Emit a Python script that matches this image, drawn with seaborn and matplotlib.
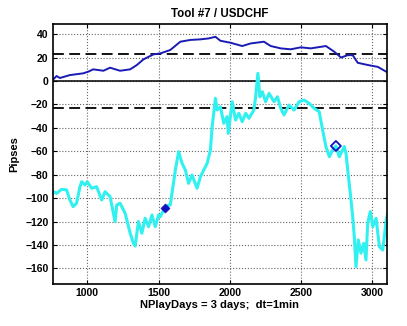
import numpy as np
import pandas as pd
import matplotlib
matplotlib.use('Agg')
import matplotlib.pyplot as plt
import seaborn as sns

# 데이터
tool_x = [762, 785, 808, 878, 972, 1007, 1042, 1113, 1160, 1230, 1301, 1348, 1394,
          1465, 1512, 1582, 1653, 1723, 1794, 1852, 1899, 1934, 2005, 2087, 2146,
          2239, 2287, 2357, 2427, 2498, 2568, 2615, 2674, 2733, 2780, 2827, 2862,
          2897, 2968, 3038, 3097]
tool_y = [1.4, 4.2, 2.5, 5, 6.5, 7.9, 9.9, 8.7, 11.3, 8.7, 9.9, 13.6, 18.4,
          22.7, 23.5, 26.4, 33.5, 35, 35.5, 36.3, 37.7, 34.3, 32.6, 29.8, 32,
          33.5, 29.8, 27.8, 27, 28.7, 27.8, 28.7, 29.8, 24.9, 20, 22, 22,
          15.5, 13.6, 12, 7.9]

pnl_x = [762, 785, 820, 855, 878, 901, 925, 949, 961, 984, 1000, 1031, 1066, 1101,
         1125, 1160, 1195, 1207, 1230, 1266, 1301, 1324, 1336, 1359, 1383, 1406,
         1430, 1454, 1477, 1500, 1512, 1542, 1570, 1582, 1601, 1618, 1641, 1665,
         1688, 1711, 1735, 1770, 1794, 1817, 1841, 1864, 1876, 1899, 1911, 1934,
         1958, 1981, 1989, 2017, 2040, 2063, 2087, 2111, 2134, 2169, 2181, 2197,
         2211, 2228, 2251, 2275, 2310, 2334, 2357, 2380, 2415, 2451, 2486, 2521,
         2556, 2592, 2627, 2651, 2674, 2698, 2721, 2744, 2768, 2803, 2815, 2827,
         2850, 2862, 2873, 2885, 2901, 2920, 2939, 2955, 2967, 2985, 3003, 3026,
         3049, 3073, 3097, 3108]
pnl_y = [-94.5, -96, -92.5, -93, -101.6, -107.3, -104.4, -90.3, -86, -88.8, -86,
         -91.6, -90.3, -101.6, -94.5, -98.8, -120, -105.9, -104.4, -113, -130,
         -138.6, -140.9, -120, -130, -117.2, -124.4, -114.4, -124.4, -114.4, -115.9,
         -108.7, -105.9, -106, -90.3, -76, -60.4, -70.3, -76, -87.4, -80.3, -91.6,
         -81.7, -76, -70.3, -59, -39, -14.8, -24.8, -22, -36.2, -30.5, -44.7, -17.7,
         -33.4, -27.6, -34.8, -27.6, -31.9, -24.8, -13.5, 6.5, -13.5, -9.2, -17.7,
         -10.6, -17.7, -13.5, -23.4, -29, -20.6, -24.8, -17.7, -16.3, -19.1, -23.4,
         -26.3, -41.9, -56, -64.7, -59, -55.5, -64.7, -56, -61.8, -76, -101.6,
         -115.9, -133, -158.5, -135.7, -147, -138.6, -152.8, -121.5, -111.6, -124.4,
         -117.2, -141.5, -144.3, -118.7, -113]

entry_x, entry_y = [1542], [-108.7]
exit_x, exit_y = [2744], [-55.5]
level = 23

sns.set_style('ticks')
plt.rcParams['font.family'] = ['Liberation Sans', 'DejaVu Sans']
plt.rcParams['font.weight'] = 'bold'
for k in ['text.color', 'axes.labelcolor', 'xtick.color', 'ytick.color', 'axes.edgecolor']:
    plt.rcParams[k] = 'black'

fig = plt.figure(figsize=(4.07, 3.26), dpi=100)
ax = fig.add_axes([0.131, 0.130, 0.819, 0.796])

sns.lineplot(x=tool_x, y=tool_y, ax=ax, color='#1a1ab4', lw=1.4)
sns.lineplot(x=pnl_x, y=pnl_y, ax=ax, color='#30f0f0', lw=2.2)

ax.axhline(0, color='black', lw=1.1, zorder=1)
ax.axhline(level, color='black', lw=1.3, ls=(0, (6, 3)), zorder=1)
ax.axhline(-level, color='black', lw=1.3, ls=(0, (6, 3)), zorder=1)

sns.scatterplot(x=entry_x, y=entry_y, ax=ax, marker='D', s=22, color='#1010c0',
                edgecolor='#1010c0', zorder=5)
sns.scatterplot(x=exit_x, y=exit_y, ax=ax, marker='D', s=26, facecolor='none',
                edgecolor='#1010c0', linewidth=1.3, zorder=5)

ax.set_xlim(762, 3100)
ax.set_ylim(-173, 48.5)
ax.set_xticks([1000, 1500, 2000, 2500, 3000])
ax.set_yticks(np.arange(-160, 41, 20))
ax.grid(True, ls=':', color='#666666', lw=0.8)
ax.tick_params(direction='in', top=True, right=True, labelsize=7.5, length=3)
for s in ax.spines.values():
    s.set_linewidth(1.2)

ax.set_title('Tool #7 / USDCHF', fontsize=8.3, fontweight='bold', pad=5)
ax.set_ylabel('Pipses', fontsize=8, fontweight='bold')
ax.set_xlabel('NPlayDays = 3 days;  dt=1min', fontsize=8, fontweight='bold', labelpad=1)

fig.savefig('out.png', dpi=100)
